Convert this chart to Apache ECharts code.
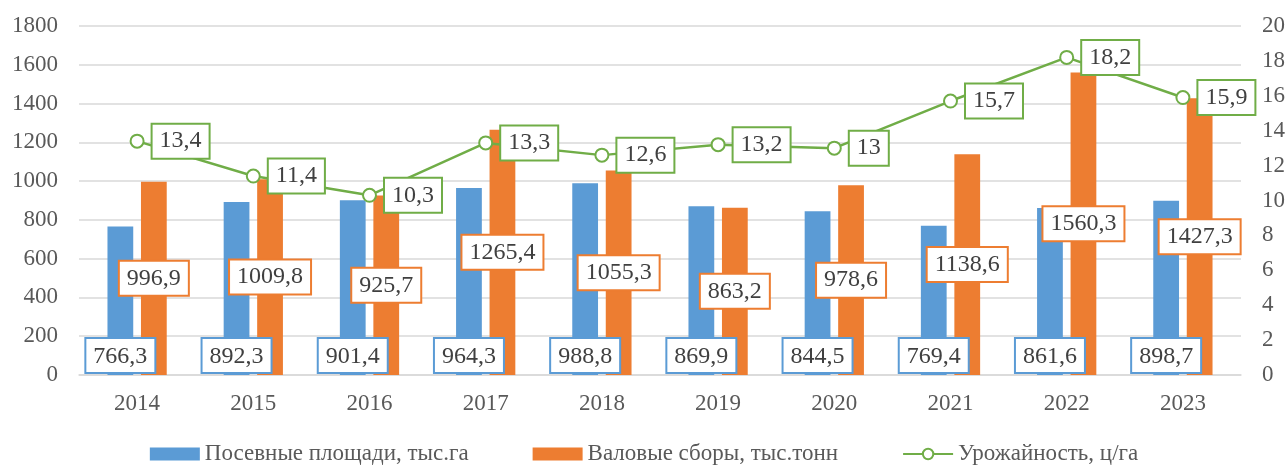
<!DOCTYPE html>
<html>
<head>
<meta charset="utf-8">
<script src="https://cdn.jsdelivr.net/npm/echarts@6/dist/echarts.min.js"></script>
<style>
  html, body { margin: 0; padding: 0; background: #fff; }
  #chart { width: 1288px; height: 466px; }
</style>
</head>
<body>
<div id="chart"></div>
<script>
var years = ['2014', '2015', '2016', '2017', '2018', '2019', '2020', '2021', '2022', '2023'];
var area = [766.3, 892.3, 901.4, 964.3, 988.8, 869.9, 844.5, 769.4, 861.6, 898.7];
var harvest = [996.9, 1009.8, 925.7, 1265.4, 1055.3, 863.2, 978.6, 1138.6, 1560.3, 1427.3];
var yieldHa = [13.4, 11.4, 10.3, 13.3, 12.6, 13.2, 13, 15.7, 18.2, 15.9];

var FONT = 'Liberation Serif';
var comma = function (p) { return String(p.value).replace('.', ','); };
var plain = function (v) { return String(v); };

function boxLabel(color, pos, dist) {
  return {
    show: true,
    position: pos,
    distance: dist,
    formatter: comma,
    fontFamily: FONT,
    fontSize: 24,
    color: '#404040',
    backgroundColor: '#fff',
    borderColor: color,
    borderWidth: 2,
    padding: [6, 7, 3, 7]
  };
}

var chart = echarts.init(document.getElementById('chart'));
chart.setOption({
  animation: false,
  textStyle: { fontFamily: FONT },
  grid: { left: 79, right: 47, top: 26, bottom: 91 },
  legend: {
    top: 442,
    left: 'center',
    itemGap: 64,
    itemWidth: 50,
    itemHeight: 13,
    padding: 0,
    textStyle: { fontFamily: FONT, fontSize: 23, color: '#595959', lineHeight: 24 },
    data: [
      { name: 'Посевные площади, тыс.га', icon: 'rect' },
      { name: 'Валовые сборы, тыс.тонн', icon: 'rect' },
      { name: 'Урожайность, ц/га' }
    ]
  },
  xAxis: {
    type: 'category',
    data: years,
    axisTick: { show: false },
    axisLine: { lineStyle: { color: '#d9d9d9', width: 1.5 } },
    axisLabel: { fontFamily: FONT, fontSize: 23, color: '#595959', margin: 17 }
  },
  yAxis: [
    {
      type: 'value', min: 0, max: 1800, interval: 200,
      axisLabel: { fontFamily: FONT, fontSize: 23, color: '#595959', margin: 21, formatter: plain },
      splitLine: { lineStyle: { color: '#d9d9d9', width: 1.5 } }
    },
    {
      type: 'value', min: 0, max: 20, interval: 2,
      axisLabel: { fontFamily: FONT, fontSize: 23, color: '#595959', margin: 21, formatter: plain },
      splitLine: { show: false }
    }
  ],
  series: [
    {
      name: 'Посевные площади, тыс.га',
      type: 'bar',
      data: area,
      barGap: '30%',
      barCategoryGap: '49%',
      itemStyle: { color: '#5B9BD5' },
      label: boxLabel('#5B9BD5', 'insideBottom', 3),
      z: 2
    },
    {
      name: 'Валовые сборы, тыс.тонн',
      type: 'bar',
      data: harvest,
      itemStyle: { color: '#ED7D31' },
      label: boxLabel('#ED7D31', 'inside', 0),
      z: 2
    },
    {
      name: 'Урожайность, ц/га',
      type: 'line',
      yAxisIndex: 1,
      data: yieldHa,
      symbol: 'emptyCircle',
      symbolSize: 13,
      lineStyle: { color: '#70AD47', width: 2.5 },
      itemStyle: { color: '#70AD47', borderWidth: 2.5 },
      label: boxLabel('#70AD47', 'right', 8),
      z: 5
    }
  ]
});
</script>
</body>
</html>
